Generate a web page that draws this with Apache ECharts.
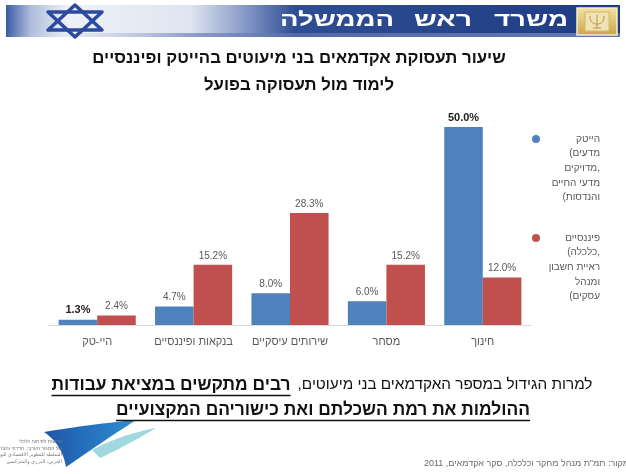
<!DOCTYPE html>
<html>
<head>
<meta charset="utf-8">
<script src="https://cdn.jsdelivr.net/npm/echarts@6/dist/echarts.min.js"></script>
<style>
  html, body { margin: 0; padding: 0; background: #ffffff; }
  #chart { width: 626px; height: 474px; }
</style>
</head>
<body>
<div id="chart"></div>
<script>
// Categories (sectors) and employment rates in percent
const categories = ['היי-טק', 'בנקאות ופיננסיים', 'שירותים עיסקיים', 'מסחר', 'חינוך'];
const hitechStudy = [1.3, 4.7, 8.0, 6.0, 50.0];      // studied hi-tech fields
const financeStudy = [2.4, 15.2, 28.3, 15.2, 12.0];  // studied finance fields

// Legend text, one entry per line
const legendHitech = ['הייטק', '(מדעים', 'מדויקים,', 'מדעי החיים', '(והנדסות'];
const legendFinance = ['פיננסיים', '(כלכלה,', 'ראיית חשבון', 'ומנהל', '(עסקים'];

// Header, title and footer texts
const ministryWords = ['משרד', 'ראש', 'הממשלה'];
const titleLines = ['שיעור תעסוקת אקדמאים בני מיעוטים בהייטק ופיננסיים', 'לימוד מול תעסוקה בפועל'];
const noteRegular = 'למרות הגידול במספר האקדמאים בני מיעוטים,\u200F';
const noteBold1 = 'רבים מתקשים במציאת עבודות';
const noteBold2 = 'ההולמות את רמת השכלתם ואת כישוריהם המקצועיים';
const sourceText = 'מקור: תמ"ת מנהל מחקר וכלכלה, סקר אקדמאים, 2011';
const logoLines = ['הרשות לפיתוח כלכלי', 'של המגזר הערבי, הדרוזי והצ\'רקסי', 'السلطة للتطوير الاقتصادي للوسط', 'العربي، الدرزي والشركسي'];

const FONT = '"Liberation Sans", "DejaVu Sans", Arial, sans-serif';
const BLUE = '#4F81BD';
const RED = '#C0504D';

const measureCtx = document.createElement('canvas').getContext('2d');
function textWidth(str, font) {
  measureCtx.font = font;
  return measureCtx.measureText(str).width;
}

// sample a closed outline made of quadratic curves: [start, [ctrl, end], ...]
function curveOutline(start, segs) {
  const pts = [start];
  let p0 = start;
  segs.forEach(function (s) {
    const c = s[0], p1 = s[1];
    for (let i = 1; i <= 16; i++) {
      const t = i / 16, u = 1 - t;
      pts.push([u * u * p0[0] + 2 * u * t * c[0] + t * t * p1[0],
                u * u * p0[1] + 2 * u * t * c[1] + t * t * p1[1]]);
    }
    p0 = p1;
  });
  return pts;
}

const graphics = [];

// ---- header banner ----
graphics.push({
  type: 'rect', shape: { x: 6, y: 5, width: 614, height: 32 }, z: 1,
  style: {
    fill: new echarts.graphic.LinearGradient(0, 0, 1, 0, [
      { offset: 0, color: '#3a5ca6' },
      { offset: 0.04, color: '#aebbdb' },
      { offset: 0.1, color: '#eef1f8' },
      { offset: 0.3, color: '#dfe5f1' },
      { offset: 0.4, color: '#7b90c2' },
      { offset: 0.47, color: '#2e4d92' },
      { offset: 1, color: '#1f3c84' }
    ])
  }
});
graphics.push({
  type: 'rect', shape: { x: 6, y: 33, width: 614, height: 4 }, z: 2,
  style: {
    fill: new echarts.graphic.LinearGradient(0, 0, 1, 0, [
      { offset: 0, color: 'rgba(255,255,255,0.0)' },
      { offset: 0.3, color: 'rgba(90,110,170,0.6)' },
      { offset: 1, color: 'rgba(160,180,220,0.5)' }
    ])
  }
});
// star of David
graphics.push({
  type: 'polygon', z: 3,
  shape: { points: [[75, 5], [48, 30], [102, 30]] },
  style: { fill: 'none', stroke: '#2c4a9e', lineWidth: 3.5, lineJoin: 'round' }
});
graphics.push({
  type: 'polygon', z: 3,
  shape: { points: [[75, 37], [48, 12], [102, 12]] },
  style: { fill: 'none', stroke: '#2c4a9e', lineWidth: 3.5, lineJoin: 'round' }
});
// ministry name
const ministryPos = [[568, 494], [472, 414], [394, 280]];
ministryWords.forEach(function (w, i) {
  const f = 'bold 19px ' + FONT;
  const target = ministryPos[i][0] - ministryPos[i][1];
  const sx = target / textWidth(w, f);
  graphics.push({
    type: 'text', z: 4, x: ministryPos[i][0], y: 21, scaleX: sx,
    style: { text: w, font: f, fill: '#ffffff', align: 'right', verticalAlign: 'middle' }
  });
});
// emblem
graphics.push({
  type: 'rect', z: 3, shape: { x: 577, y: 8, width: 40, height: 27 },
  style: {
    fill: new echarts.graphic.LinearGradient(0, 0, 0, 1, [
      { offset: 0, color: '#f3e3a3' }, { offset: 1, color: '#c9a54c' }
    ]),
    stroke: '#f6efc8', lineWidth: 1.5
  }
});
graphics.push({
  type: 'rect', z: 4, shape: { x: 585, y: 12, width: 24, height: 19 },
  style: { fill: '#efe3b6', stroke: '#d6b960', lineWidth: 1 }
});
graphics.push({
  type: 'polyline', z: 5,
  shape: { points: curveOutline([590, 16], [[[590, 24], [597, 24]], [[604, 24], [604, 16]]]) },
  style: { fill: 'none', stroke: '#b8953a', lineWidth: 1 }
});
graphics.push({
  type: 'line', z: 5, shape: { x1: 597, y1: 15, x2: 597, y2: 28 },
  style: { stroke: '#b8953a', lineWidth: 1 }
});
graphics.push({
  type: 'line', z: 5, shape: { x1: 593, y1: 28, x2: 601, y2: 28 },
  style: { stroke: '#b8953a', lineWidth: 1 }
});

// ---- title ----
titleLines.forEach(function (t, i) {
  graphics.push({
    type: 'text', z: 4, x: 299, y: 58 + i * 27,
    style: { text: t, font: 'bold 16.8px ' + FONT, fill: '#111111', align: 'center', verticalAlign: 'middle' }
  });
});

// ---- legend ----
function legendBlock(lines, color, y0) {
  graphics.push({
    type: 'circle', z: 4, shape: { cx: 536, cy: y0, r: 4 },
    style: { fill: color }
  });
  lines.forEach(function (t, i) {
    graphics.push({
      type: 'text', z: 4, x: 600, y: y0 + i * 14.6,
      style: { text: t, font: '10px ' + FONT, fill: '#595959', align: 'right', verticalAlign: 'middle' }
    });
  });
}
legendBlock(legendHitech, BLUE, 139);
legendBlock(legendFinance, RED, 238);

// ---- footer note ----
const noteFontR = '15.3px ' + FONT;
const noteFontB = 'bold 17.4px ' + FONT;
const wReg = textWidth(noteRegular, noteFontR);
const wB1 = textWidth(noteBold1, noteFontB);
const gap = 7;
const line1Left = 322 - (wReg + gap + wB1) / 2;
graphics.push({
  type: 'text', z: 4, x: line1Left, y: 385,
  style: { text: noteBold1, font: noteFontB, fill: '#111111', align: 'left', verticalAlign: 'middle' }
});
graphics.push({
  type: 'text', z: 4, x: line1Left + wB1 + gap, y: 385,
  style: { text: noteRegular, font: noteFontR, fill: '#111111', align: 'left', verticalAlign: 'middle' }
});
graphics.push({
  type: 'line', z: 4, shape: { x1: line1Left, y1: 395.5, x2: line1Left + wB1, y2: 395.5 },
  style: { stroke: '#111111', lineWidth: 1.5 }
});
const wB2 = textWidth(noteBold2, noteFontB);
graphics.push({
  type: 'text', z: 4, x: 323, y: 410,
  style: { text: noteBold2, font: noteFontB, fill: '#111111', align: 'center', verticalAlign: 'middle' }
});
graphics.push({
  type: 'line', z: 4, shape: { x1: 323 - wB2 / 2, y1: 420.5, x2: 323 + wB2 / 2, y2: 420.5 },
  style: { stroke: '#111111', lineWidth: 1.5 }
});

// ---- source ----
graphics.push({
  type: 'text', z: 4, x: 629, y: 464,
  style: { text: sourceText, font: '9px ' + FONT, fill: '#6a6a6a', align: 'right', verticalAlign: 'middle' }
});

// ---- authority logo ----
graphics.push({
  type: 'polygon', z: 3,
  shape: { points: curveOutline([44, 432], [[[92, 424], [136, 420]], [[108, 438], [66, 467]], [[62, 444], [44, 432]]]) },
  style: {
    fill: new echarts.graphic.LinearGradient(0, 0, 1, 0, [
      { offset: 0, color: '#1d56a8' }, { offset: 1, color: '#2f8fd2' }
    ])
  }
});
graphics.push({
  type: 'polygon', z: 3,
  shape: { points: curveOutline([92, 450], [[[122, 434], [156, 428]], [[126, 446], [100, 458]], [[96, 454], [92, 450]]]) },
  style: { fill: 'rgba(120,200,210,0.7)' }
});
logoLines.forEach(function (t, i) {
  graphics.push({
    type: 'text', z: 4, x: 62, y: 442 + i * 6.5,
    style: { text: t, font: '5px ' + FONT, fill: '#7a7a7a', align: 'right', verticalAlign: 'middle' }
  });
});

// ---- chart ----
// value labels; the labels of the listed indices are drawn bold
function valueLabel(boldIndices) {
  return {
    show: true, position: 'top', distance: 4,
    formatter: function (p) {
      const txt = p.value.toFixed(1) + '%';
      return boldIndices.indexOf(p.dataIndex) >= 0 ? '{b|' + txt + '}' : txt;
    },
    color: '#595959', fontSize: 10, fontFamily: FONT,
    rich: { b: { fontWeight: 'bold', fontSize: 11, color: '#222222', fontFamily: FONT } }
  };
}

const chart = echarts.init(document.getElementById('chart'), null, { renderer: 'canvas' });
chart.setOption({
  animation: false,
  backgroundColor: '#ffffff',
  grid: { left: 49, right: 95, top: 127, bottom: 149 },
  xAxis: {
    type: 'category', data: categories,
    axisLine: { lineStyle: { color: '#d9d9d9' } },
    axisTick: { show: false },
    axisLabel: { interval: 0, color: '#595959', fontSize: 11, fontFamily: FONT, margin: 11 }
  },
  yAxis: {
    type: 'value', min: 0, max: 50,
    show: false, splitLine: { show: false }
  },
  series: [
    {
      name: 'הייטק', type: 'bar', data: hitechStudy,
      barGap: '0%', barCategoryGap: '20%',
      itemStyle: { color: BLUE },
      label: valueLabel([0, 4])
    },
    {
      name: 'פיננסיים', type: 'bar', data: financeStudy,
      barGap: '0%', barCategoryGap: '20%',
      itemStyle: { color: RED },
      label: valueLabel([])
    }
  ],
  graphic: graphics
});
</script>
</body>
</html>
